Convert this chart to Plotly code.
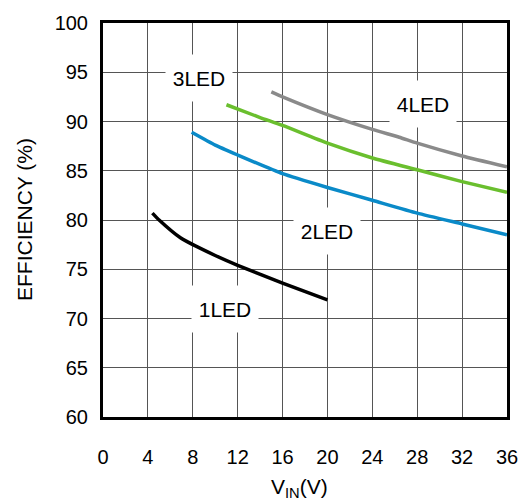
import plotly.graph_objects as go

# Data
led1_x = [4.4, 5.0, 6.9, 10.0, 12.0, 16.0, 20.0]
led1_y = [80.7, 80.0, 78.2, 76.4, 75.4, 73.6, 71.9]

led2_x = [7.9, 10.0, 12.0, 16.0, 20.0, 24.0, 28.0, 32.0, 36.0]
led2_y = [88.9, 87.6, 86.6, 84.7, 83.3, 82.0, 80.7, 79.6, 78.5]

led3_x = [11.0, 14.0, 16.0, 20.0, 24.0, 28.0, 32.0, 36.0]
led3_y = [91.7, 90.4, 89.6, 87.8, 86.3, 85.1, 83.9, 82.8]

led4_x = [15.0, 16.0, 20.0, 24.0, 26.4, 28.0, 32.0, 36.0]
led4_y = [93.0, 92.5, 90.7, 89.2, 88.4, 87.8, 86.5, 85.4]

series_names = ["1LED", "2LED", "3LED", "4LED"]
series_colors = ["#000000", "#0a8ac8", "#6abf2e", "#8a8a8a"]

label_text = ["3LED", "4LED", "2LED", "1LED"]
label_x = [8.54, 28.54, 19.98, 10.9]
label_y = [94.4, 91.76, 78.86, 71.0]

x_ticks = [0, 4, 8, 12, 16, 20, 24, 28, 32, 36]
y_ticks = [60, 65, 70, 75, 80, 85, 90, 95, 100]

FONT = "Liberation Sans, Arial, Helvetica, sans-serif"

fig = go.Figure()
for xs, ys, name, color in zip(
    [led1_x, led2_x, led3_x, led4_x],
    [led1_y, led2_y, led3_y, led4_y],
    series_names, series_colors,
):
    fig.add_trace(go.Scatter(
        x=xs, y=ys, name=name, mode="lines",
        line=dict(color=color, width=3.5, shape="spline", smoothing=0.5),
        showlegend=False,
    ))

for t, lx, ly in zip(label_text, label_x, label_y):
    fig.add_annotation(
        x=lx, y=ly, xref="x", yref="y", text=t, showarrow=False,
        font=dict(family=FONT, size=21, color="black"),
        bgcolor="white", width=66, height=46, borderpad=0,
        xanchor="center", yanchor="middle",
    )

# axis titles
fig.add_annotation(
    x=0.5, y=0, xref="paper", yref="paper", xshift=-6, yshift=-71,
    text="V<sub>IN</sub>(V)", showarrow=False,
    font=dict(family=FONT, size=21, color="black"),
    xanchor="center", yanchor="middle",
)
fig.add_annotation(
    x=0, y=0.5, xref="paper", yref="paper", xshift=-79,
    text="EFFICIENCY (%)", showarrow=False, textangle=-90,
    font=dict(family=FONT, size=21, color="black"),
    xanchor="center", yanchor="middle",
)

axis_common = dict(
    showgrid=True, gridcolor="#555555", gridwidth=1,
    showline=True, linecolor="black", linewidth=3, mirror=True,
    zeroline=False, ticks="",
    tickfont=dict(family=FONT, size=20, color="black"),
)

fig.update_xaxes(range=[0, 36], tickvals=x_ticks, ticktext=[str(v) for v in x_ticks],
                 ticklabelstandoff=20, **axis_common)
fig.update_yaxes(range=[60, 100], tickvals=y_ticks, ticktext=[str(v) for v in y_ticks],
                 ticklabelstandoff=8, **axis_common)

fig.update_layout(
    width=530, height=504,
    margin=dict(l=103, r=22, t=17, b=87),
    paper_bgcolor="white", plot_bgcolor="white",
    font=dict(family=FONT),
)

fig.write_html(
    "out.html",
    config={"displayModeBar": False},
    post_script="document.body.style.margin='0px';document.body.style.padding='0px';",
)
